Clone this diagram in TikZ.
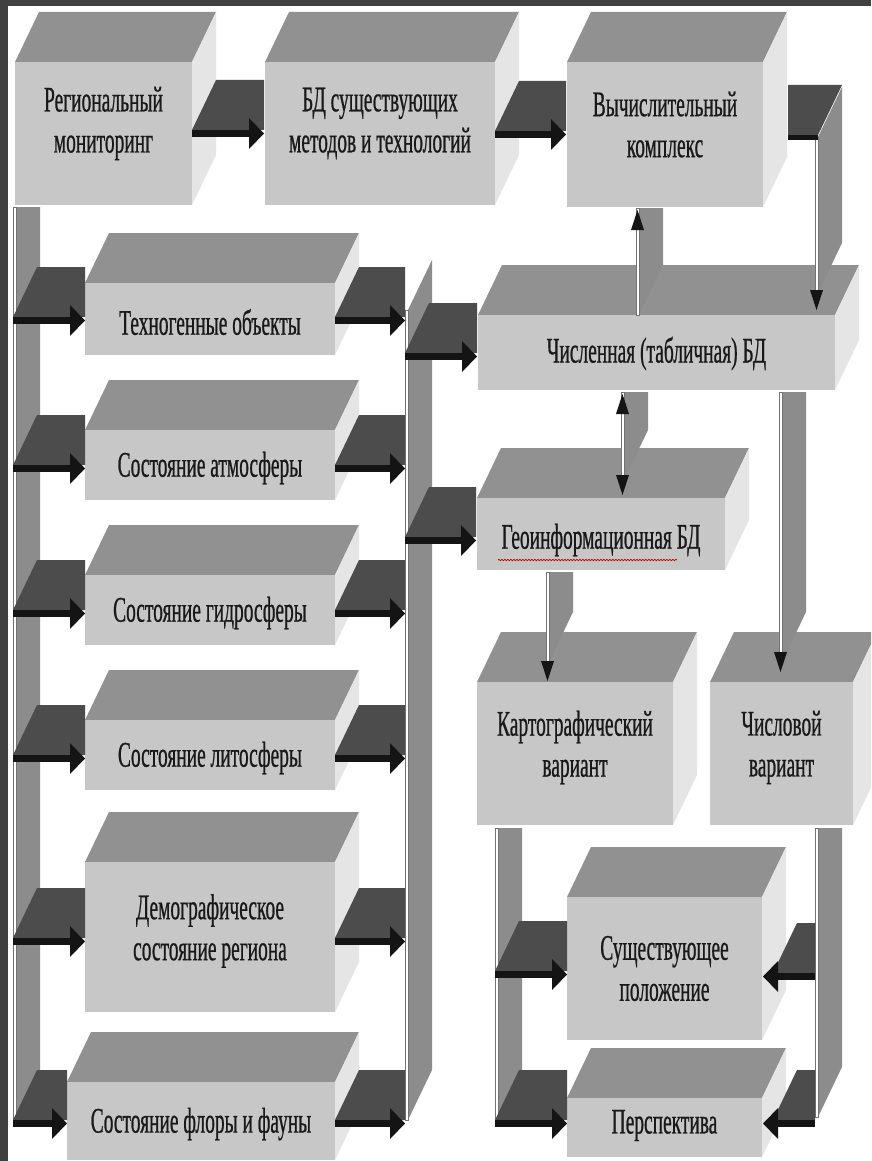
\documentclass[tikz,border=0pt]{standalone}
\usepackage{fontspec}
\setmainfont{Liberation Serif}[FakeStretch=0.54,FakeBold=0.6]
\usepackage{tikz}
\usetikzlibrary{decorations.pathmorphing}

\begin{document}
\begin{tikzpicture}[x=1pt,y=-1pt]
  \pgfmathsetmacro{\dx}{24}% depth to the right
  \pgfmathsetmacro{\dz}{50}% depth upwards
  \tikzset{
    inner sep=0pt,
    front face/.style={fill=black!22},
    top face/.style={fill=black!43},
    side face/.style={fill=black!10},
    plank/.style={fill=black!70},
    plank edge/.style={fill=black!92},
    rail/.style={fill=black!45},
    rail front/.style={fill=white,draw=black!55,line width=0.5pt},
    label text/.style={align=center,text=black!90,
      font=\fontsize{36}{41}\selectfont}
  }
  % box: [text shift] name, x1, y1, x2, y2, text
  \newcommand\Blok[7][0]{
    \fill[top face] (#3,#4) -- (#3+\dx,#4-\dz) -- (#5+\dx,#4-\dz) -- (#5,#4) -- cycle;
    \fill[side face] (#5,#4) -- (#5+\dx,#4-\dz) -- (#5+\dx,#6-\dz) -- (#5,#6) -- cycle;
    \fill[front face] (#3,#4) rectangle (#5,#6);
    \node[label text] (#2) at ({(#3+#5)/2},{(#4+#6)/2+#1}) {#7};
  }
  % vertical ribbon: x, top, bottom, lift of its top
  \newcommand\Rail[4]{
    \fill[rail] (#1,#2) -- (#1+\dx,#2-#4) -- (#1+\dx,#3-\dz) -- (#1,#3) -- cycle;
    \filldraw[rail front] (#1-3,#2) rectangle (#1,#3);
  }
  % flat arrows, to the right and to the left
  \newcommand\PlankR[3]{
    \fill[plank] (#1,#3) -- (#1+\dx,#3-\dz) -- (#2,#3-\dz) -- (#2,#3) -- cycle;
    \fill[plank edge] (#1,#3) rectangle (#2-10,#3+7);
    \fill[plank edge] (#2,#3+3.5) -- (#2-15,#3-12) -- (#2-15,#3+19) -- cycle;
  }
  \newcommand\PlankL[3]{
    \fill[plank] (#2+10,#3) -- (#2+10+\dx,#3-\dz) -- (#1,#3-\dz) -- (#1,#3) -- cycle;
    \fill[plank edge] (#2+10,#3) rectangle (#1,#3+7);
    \fill[plank edge] (#2,#3+3.5) -- (#2+15,#3-12) -- (#2+15,#3+19) -- cycle;
  }
  \newcommand\HeadDown[2]{
    \fill[plank edge] (#1-1.5,#2) -- (#1-8,#2-20) -- (#1+5,#2-20) -- cycle;
  }
  \newcommand\HeadUp[2]{
    \fill[plank edge] (#1-1.5,#2) -- (#1-8,#2+20) -- (#1+5,#2+20) -- cycle;
  }

  \useasboundingbox (0,0) rectangle (871,1161);
  \clip (0,0) rectangle (871,1161);
  \fill[white] (0,0) rectangle (871,1161);

  \Blok[-10]{reg}{15}{62}{192}{205}{Региональный\\мониторинг}
  \Blok[-10]{bd}{265}{62}{495}{205}{БД существующих\\методов и технологий}
  \Blok[-10]{calc}{567}{62}{763}{207}{Вычислительный\\комплекс}
  \Blok[3]{tech}{85}{283}{335}{355}{Техногенные объекты}
  \Blok[3]{atm}{85}{430}{335}{500}{Состояние атмосферы}
  \Blok[3]{hyd}{85}{575}{335}{645}{Состояние гидросферы}
  \Blok[3]{lit}{85}{720}{335}{790}{Состояние литосферы}
  \Blok[-6]{dem}{85}{862}{335}{1012}{Демографическое\\состояние региона}
  \Blok[3]{flora}{67}{1082}{335}{1160}{Состояние флоры и фауны}
  \Blok[1]{tab}{478}{315}{835}{390}{Численная (табличная) БД}
  \Blok[6]{geo}{477}{498}{725}{570}{Геоинформационная БД}
  \Blok[-6]{map}{477}{682}{673}{825}{Картографический\\вариант}
  \Blok[-6]{numv}{710}{682}{853}{825}{Числовой\\вариант}
  \Blok[0]{now}{567}{897}{762}{1040}{Существующее\\положение}
  \Blok[-2]{persp}{567}{1098}{762}{1157}{Перспектива}
  \draw[red!75!black,line width=0.7pt,decorate,
    decoration={snake,amplitude=0.7pt,segment length=3pt}] (498,560) -- (677,560);

  % buses and vertical links
  \Rail{16}{207}{1120}{0}
  \Rail{408}{310}{1120}{\dz}
  \Rail{818}{137}{293}{\dz}
  \Rail{639}{208}{315}{0}
  \Rail{624}{392}{480}{0}
  \Rail{549}{572}{662}{0}
  \Rail{782}{392}{662}{0}
  \Rail{498}{828}{1122}{0}
  \Rail{818}{828}{1117}{0}
  \HeadDown{818}{310}
  \HeadUp{639}{210}
  \HeadUp{624}{394}
  \HeadDown{624}{495}
  \HeadDown{549}{681}
  \HeadDown{782}{672}

  \PlankR{192}{264}{130}
  \PlankR{495}{566}{131}
  \fill[plank] (788,135) -- (788,85) -- (842,85) -- (818,135) -- cycle;
  \fill[plank edge] (788,135) rectangle (818,140);
  \foreach \y in {317,465,610,755,938}
    {\PlankR{13}{85}{\y}}
  \PlankR{13}{67}{1120}
  \foreach \y in {317,465,610,755,938,1120}
    {\PlankR{335}{405}{\y}}
  \PlankR{405}{477}{353}
  \PlankR{405}{476}{537}
  \PlankR{495}{567}{971}
  \PlankR{495}{567}{1120}
  \PlankL{815}{763}{973}
  \PlankL{815}{763}{1120}

  % frame
  \fill[black!75] (0,0) rectangle (871,6);
  \fill[black!75] (0,0) rectangle (8,1161);
\end{tikzpicture}
\end{document}
